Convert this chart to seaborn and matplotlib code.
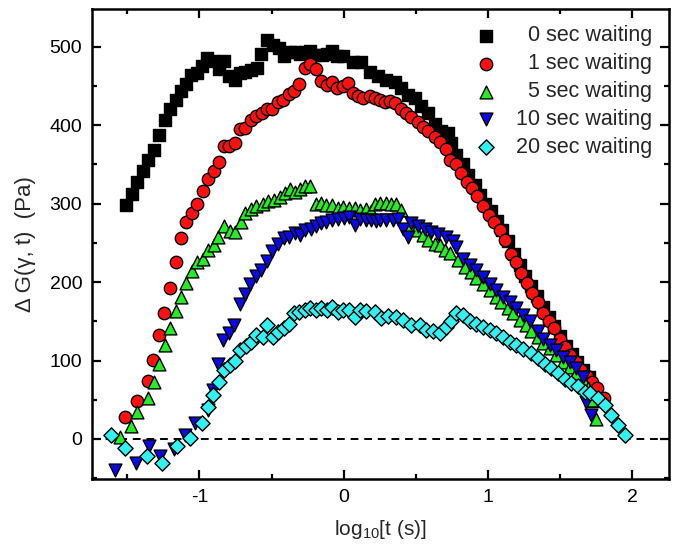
import matplotlib
matplotlib.use("Agg")
import matplotlib.pyplot as plt
import seaborn as sns
import pandas as pd
from matplotlib.ticker import MultipleLocator

# ---------------- data ----------------
x_0s = [-1.507, -1.467, -1.430, -1.391, -1.354, -1.312, -1.280, -1.238, -1.206, -1.166,
        -1.131, -1.094, -1.058, -1.017, -0.984, -0.945, -0.906, -0.868, -0.832, -0.792,
        -0.755, -0.719, -0.681, -0.642, -0.603, -0.570, -0.529, -0.490, -0.450, -0.416,
        -0.374, -0.340, -0.305, -0.265, -0.231, -0.196, -0.150, -0.116, -0.081, -0.044,
        -0.005, 0.064, 0.123, 0.180, 0.238, 0.296, 0.353, 0.400, 0.446, 0.492,
        0.538, 0.584, 0.631, 0.677, 0.723, 0.746, 0.781, 0.827, 0.861, 0.908,
        0.942, 0.980, 1.020, 1.060, 1.100, 1.140, 1.180, 1.220, 1.260, 1.300,
        1.340, 1.380, 1.420, 1.460, 1.500, 1.540, 1.580, 1.620, 1.660, 1.700, 1.730]
y_0s = [298, 312, 327, 341, 355, 368, 387, 406, 421, 432,
        444, 453, 464, 467, 475, 485, 482, 471, 482, 462,
        457, 466, 468, 470, 473, 491, 508, 502, 498, 488,
        493, 493, 491, 493, 495, 490, 490, 491, 494, 488,
        488, 481, 481, 468, 462, 458, 455, 447, 438, 434,
        424, 415, 402, 392, 390, 377, 362, 351, 336, 324,
        311, 300, 290, 278, 266, 252, 236, 222, 208, 195,
        182, 168, 156, 144, 131, 119, 108, 98, 88, 79, 48]

x_1s = [-1.518, -1.430, -1.356, -1.319, -1.282, -1.243, -1.206, -1.166, -1.130, -1.090,
        -1.051, -1.017, -0.977, -0.940, -0.901, -0.864, -0.832, -0.795, -0.755, -0.719,
        -0.681, -0.642, -0.605, -0.568, -0.531, -0.494, -0.455, -0.418, -0.381, -0.344,
        -0.307, -0.268, -0.231, -0.194, -0.155, -0.118, -0.078, -0.044, -0.005, 0.030,
        0.064, 0.099, 0.134, 0.180, 0.215, 0.249, 0.284, 0.319, 0.353, 0.400,
        0.435, 0.469, 0.515, 0.550, 0.584, 0.631, 0.665, 0.707, 0.739, 0.781,
        0.816, 0.855, 0.892, 0.926, 0.965, 1.005, 1.042, 1.081, 1.116, 1.157,
        1.197, 1.231, 1.270, 1.308, 1.347, 1.381, 1.421, 1.458, 1.497, 1.532,
        1.571, 1.608, 1.647, 1.686, 1.721, 1.758, 1.802]
y_1s = [28, 49, 74, 101, 132, 160, 192, 225, 256, 277,
        288, 299, 316, 331, 342, 353, 373, 373, 377, 395,
        396, 406, 411, 415, 420, 421, 429, 432, 440, 443,
        452, 473, 478, 472, 456, 451, 455, 447, 450, 454,
        441, 437, 435, 437, 434, 432, 430, 431, 428, 421,
        415, 410, 404, 398, 392, 385, 379, 370, 356, 350,
        339, 328, 320, 310, 297, 286, 277, 266, 254, 236,
        225, 211, 199, 186, 175, 161, 150, 141, 127, 117,
        107, 98, 88, 80, 73, 65, 52]

x_5s = [-1.552, -1.478, -1.430, -1.356, -1.317, -1.280, -1.240, -1.206, -1.164, -1.125,
        -1.090, -1.051, -1.017, -0.975, -0.940, -0.901, -0.871, -0.832, -0.790, -0.751,
        -0.714, -0.681, -0.640, -0.605, -0.563, -0.525, -0.483, -0.444, -0.404, -0.374,
        -0.340, -0.305, -0.270, -0.231, -0.189, -0.155, -0.120, -0.078, -0.039, -0.005,
        0.037, 0.076, 0.111, 0.152, 0.187, 0.215, 0.250, 0.296, 0.330, 0.365,
        0.400, 0.457, 0.504, 0.550, 0.584, 0.631, 0.665, 0.700, 0.735, 0.792,
        0.838, 0.885, 0.920, 0.965, 1.012, 1.058, 1.093, 1.139, 1.173, 1.220,
        1.266, 1.300, 1.347, 1.381, 1.428, 1.474, 1.520, 1.566, 1.612, 1.659,
        1.693, 1.716, 1.751]
y_5s = [2, 17, 34, 52, 73, 96, 120, 142, 163, 181,
        199, 214, 225, 230, 241, 247, 258, 271, 265, 264,
        277, 288, 293, 297, 300, 303, 305, 309, 313, 319,
        315, 319, 322, 322, 300, 301, 298, 298, 294, 296,
        294, 294, 292, 293, 290, 300, 301, 301, 300, 299,
        292, 271, 266, 260, 254, 249, 247, 241, 237, 228,
        219, 213, 205, 198, 190, 181, 175, 167, 160, 152,
        145, 137, 130, 122, 116, 107, 98, 92, 84, 75,
        65, 50, 26]

x_10s = [-1.587, -1.437, -1.349, -1.275, -1.178, -1.102, -1.033, -0.940, -0.906, -0.871,
         -0.836, -0.797, -0.760, -0.721, -0.686, -0.647, -0.610, -0.570, -0.531, -0.494,
         -0.455, -0.416, -0.379, -0.340, -0.305, -0.268, -0.229, -0.194, -0.155, -0.120,
         -0.078, -0.039, 0.000, 0.037, 0.076, 0.111, 0.152, 0.192, 0.226, 0.250,
         0.296, 0.342, 0.376, 0.411, 0.446, 0.469, 0.515, 0.561, 0.608, 0.654,
         0.712, 0.758, 0.781, 0.827, 0.873, 0.920, 0.965, 1.012, 1.058, 1.104,
         1.150, 1.197, 1.243, 1.289, 1.347, 1.381, 1.428, 1.474, 1.520, 1.566,
         1.612, 1.659, 1.682, 1.716]
y_10s = [-40, -30, -9, -22, -13, 5, 21, 37, 62, 96,
         126, 135, 145, 172, 185, 198, 208, 216, 227, 240,
         249, 256, 257, 262, 260, 266, 268, 271, 275, 277,
         279, 280, 281, 283, 273, 280, 279, 279, 278, 279,
         279, 279, 280, 267, 258, 275, 272, 268, 264, 261,
         258, 252, 245, 230, 222, 215, 207, 198, 190, 181,
         175, 167, 158, 150, 137, 128, 120, 113, 105, 98,
         90, 79, 47, 31]

x_20s = [-1.610, -1.518, -1.367, -1.263, -1.155, -1.067, -0.979, -0.940, -0.906, -0.864,
         -0.832, -0.790, -0.751, -0.721, -0.679, -0.640, -0.605, -0.563, -0.529, -0.490,
         -0.455, -0.416, -0.379, -0.344, -0.310, -0.270, -0.231, -0.194, -0.155, -0.116,
         -0.078, -0.039, -0.005, 0.037, 0.076, 0.111, 0.157, 0.215, 0.261, 0.307,
         0.365, 0.411, 0.469, 0.527, 0.573, 0.619, 0.665, 0.712, 0.746, 0.781,
         0.827, 0.873, 0.920, 0.965, 1.012, 1.058, 1.104, 1.150, 1.197, 1.243,
         1.300, 1.347, 1.393, 1.439, 1.485, 1.532, 1.578, 1.624, 1.670, 1.705,
         1.762, 1.809, 1.855, 1.901, 1.947]
y_20s = [5, -12, -22, -31, -9, 1, 21, 41, 56, 72,
         88, 94, 99, 113, 119, 124, 133, 130, 145, 130,
         136, 142, 147, 160, 162, 164, 167, 164, 167, 164,
         168, 162, 164, 165, 156, 164, 163, 162, 154, 157,
         156, 152, 145, 145, 139, 137, 135, 143, 150, 160,
         158, 150, 147, 143, 139, 135, 130, 124, 120, 115,
         109, 103, 96, 90, 84, 77, 71, 67, 60, 58,
         52, 43, 31, 18, 5]

labels = ["0 sec waiting", "1 sec waiting", "5 sec waiting",
          "10 sec waiting", "20 sec waiting"]
x_ticks = [-1, 0, 1, 2]
y_ticks = [0, 100, 200, 300, 400, 500]

# ---------------- styling ----------------
sns.set_theme(style="ticks")
plt.rcParams['font.family'] = ['Liberation Sans', 'DejaVu Sans']
plt.rcParams['mathtext.fontset'] = 'custom'
plt.rcParams['mathtext.rm'] = 'Liberation Sans'
plt.rcParams['mathtext.default'] = 'regular'
plt.rcParams['axes.unicode_minus'] = False

fig = plt.figure(figsize=(6.74, 5.48), dpi=100)
ax = fig.add_axes([92 / 674, 1 - 479 / 548, 577 / 674, 470 / 548])

series = [(x_0s, y_0s), (x_1s, y_1s), (x_5s, y_5s), (x_10s, y_10s), (x_20s, y_20s)]
frames = []
for lab, (xs, ys) in zip(labels, series):
    frames.append(pd.DataFrame({"x": xs, "y": ys, "series": lab}))
df = pd.concat(frames, ignore_index=True)

colors = ["#000000", "#ff1010", "#22ee22", "#0a0ae6", "#30f2f2"]
markers = ["s", "o", "^", "v", "D"]
sizes = [70, 80, 85, 85, 60]

ax.axhline(0, color="black", lw=1.4, ls=(0, (4, 3)), zorder=1)

for i, lab in enumerate(labels):
    sub = df[df["series"] == lab]
    sns.scatterplot(data=sub, x="x", y="y", ax=ax, color=colors[i], marker=markers[i],
                    s=sizes[i], edgecolor="black", linewidth=1.0, label=lab,
                    zorder=3 + i)

ax.set_xlim(-1.745, 2.255)
ax.set_ylim(-51, 548)
ax.set_xticks(x_ticks)
ax.set_yticks(y_ticks)
ax.xaxis.set_minor_locator(MultipleLocator(0.5))
ax.yaxis.set_minor_locator(MultipleLocator(50))
ax.tick_params(which="both", direction="in", top=True, right=True, width=1.6,
               labelsize=14, colors="black", pad=7)
ax.tick_params(which="major", length=6.5)
ax.tick_params(which="minor", length=3.6)
for sp in ax.spines.values():
    sp.set_linewidth(1.8)
    sp.set_color("black")

ax.set_xlabel(r"log$_{10}$[t (s)]", fontsize=15, labelpad=9)
ax.set_ylabel("Δ G(γ, t)  (Pa)", fontsize=16, labelpad=10)

leg = ax.legend(loc="upper right", bbox_to_anchor=(0.9705, 0.965), frameon=False,
                fontsize=15.5, handletextpad=0.9, labelspacing=0.32, borderpad=0,
                borderaxespad=0, markerscale=1.0, handlelength=1.0)
fig.canvas.draw()
renderer = fig.canvas.get_renderer()
texts = leg.get_texts()
widths = [t.get_window_extent(renderer).width for t in texts]
shift = max(widths)
for t, w in zip(texts, widths):
    t.set_position((shift - w, 0))

fig.savefig("out.png", dpi=100)
